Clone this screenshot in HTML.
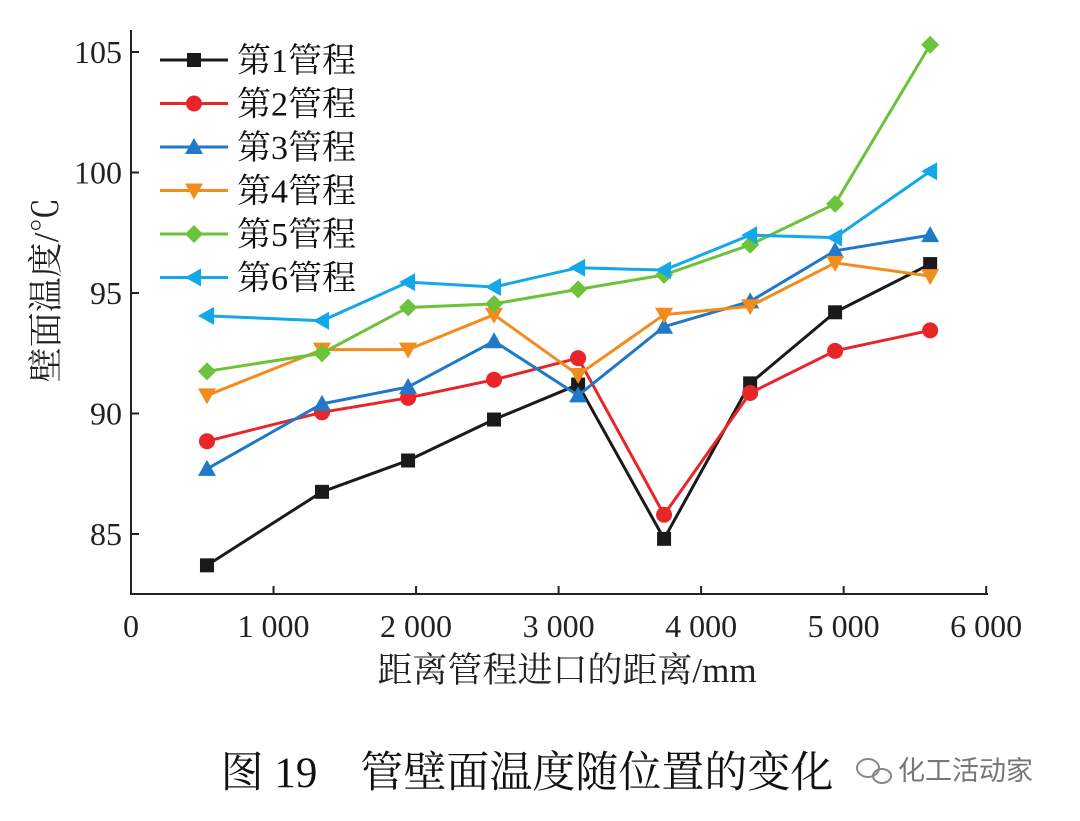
<!DOCTYPE html>
<html><head><meta charset="utf-8"><style>
body{margin:0;background:#fff;}
svg text{font-family:"Liberation Serif","Noto Serif CJK SC",serif;}
</style></head><body>
<svg width="1080" height="816" viewBox="0 0 1080 816">
<g id="axes"></g><g id="series"></g><g id="legend"></g>
<text x="527" y="787" font-size="43" text-anchor="middle" fill="#111">图 19　管壁面温度随位置的变化</text>
<g>
<ellipse cx="868" cy="768" rx="11" ry="9" fill="none" stroke="#888" stroke-width="2"/>
<ellipse cx="882" cy="776" rx="9" ry="7" fill="none" stroke="#888" stroke-width="2"/>
<text x="898" y="780" font-size="27" fill="#777" style="font-family:'Liberation Sans','Noto Sans CJK SC',sans-serif">化工活动家</text>
</g>
</svg>
<script>
const xVals=[533,1340,1944,2547,3137,3740,4344,4940,5607];
const seriesNames=["第1管程","第2管程","第3管程","第4管程","第5管程","第6管程"];
const s1=[83.7,86.75,88.05,89.75,91.2,84.8,91.25,94.2,96.2];
const s2=[88.85,90.05,90.65,91.4,92.3,85.8,90.85,92.6,93.45];
const s3=[87.7,90.4,91.1,93.0,90.75,93.6,94.65,96.75,97.4];
const s4=[90.75,92.65,92.65,94.1,91.6,94.1,94.45,96.25,95.7];
const s5=[91.75,92.5,94.4,94.55,95.15,95.75,97.0,98.7,105.3];
const s6=[94.05,93.85,95.45,95.25,96.05,95.95,97.4,97.3,100.05];
const xTicks=[0,1000,2000,3000,4000,5000,6000];
const xTickLabels=["0","1 000","2 000","3 000","4 000","5 000","6 000"];
const yTicks=[85,90,95,100,105];
const allSeries=[s1,s2,s3,s4,s5,s6];
const colors=["#1a1a1a","#e8262a","#1f78c8","#f28c1c","#6cc23a","#13a8e8"];
const markers=["square","circle","triangle","tridown","diamond","tleft"];
const NS="http://www.w3.org/2000/svg";
const X=v=>131+v*0.14253;
const Y=v=>52+(105-v)*24.1;
function mk(t,a,p){const e=document.createElementNS(NS,t);for(const k in a)e.setAttribute(k,a[k]);p.appendChild(e);return e;}
const ax=document.getElementById('axes');
let l=mk('line',{x1:131,y1:30,x2:131,y2:594,stroke:'#222','stroke-width':2},ax);


l=mk('line',{x1:130,y1:594,x2:988,y2:594,stroke:'#222','stroke-width':2},ax);


xTicks.forEach((t,i)=>{mk('line',{x1:X(t),y1:594,x2:X(t),y2:586,stroke:'#222','stroke-width':2},ax);
const tx=mk('text',{x:X(t),y:637,'font-size':32,'text-anchor':'middle',fill:'#222'},ax);tx.textContent=xTickLabels[i];

});
yTicks.forEach(t=>{mk('line',{x1:131,y1:Y(t),x2:139,y2:Y(t),stroke:'#222','stroke-width':2},ax);
const tx=mk('text',{x:122,y:Y(t)+11,'font-size':32,'text-anchor':'end',fill:'#222'},ax);tx.textContent=t;

});
let tt=mk('text',{x:567,y:682,'font-size':35,'text-anchor':'middle',fill:'#222'},ax);tt.textContent='距离管程进口的距离/mm';


tt=mk('text',{x:0,y:0,'font-size':35,'text-anchor':'middle',fill:'#222',transform:'translate(58,290) rotate(-90)'},ax);tt.textContent='壁面温度/℃';


function marker(type,x,y,c,p){const r=7;let e;
if(type=='square')e=mk('rect',{x:x-r,y:y-r,width:2*r,height:2*r,fill:c},p);
else if(type=='circle')e=mk('circle',{cx:x,cy:y,r:r+1,fill:c},p);
else{let pts;
if(type=='triangle')pts=[[x,y-9],[x-9,y+7],[x+9,y+7]];
else if(type=='tridown')pts=[[x,y+9],[x-9,y-7],[x+9,y-7]];
else if(type=='diamond')pts=[[x,y-9],[x+9,y],[x,y+9],[x-9,y]];
else pts=[[x-9,y],[x+7,y-9],[x+7,y+9]];
e=mk('polygon',{points:pts.map(q=>q.join(',')).join(' '),fill:c},p);}
return e;}
const sg=document.getElementById('series');
allSeries.forEach((s,i)=>{const g=mk('g',{},sg);


mk('polyline',{points:s.map((v,j)=>X(xVals[j])+','+Y(v)).join(' '),fill:'none',stroke:colors[i],'stroke-width':3},g);
s.forEach((v,j)=>{const m=marker(markers[i],X(xVals[j]),Y(v),colors[i],g);

});});
const lg=document.getElementById('legend');
seriesNames.forEach((n,i)=>{const y=60+i*43.5;const g=mk('g',{},lg);


mk('line',{x1:160,y1:y,x2:228,y2:y,stroke:colors[i],'stroke-width':3},g);
marker(markers[i],194,y,colors[i],g);
const t=mk('text',{x:237,y:y+12,'font-size':34,fill:'#111'},g);t.textContent=n;});
</script>
</body></html>
